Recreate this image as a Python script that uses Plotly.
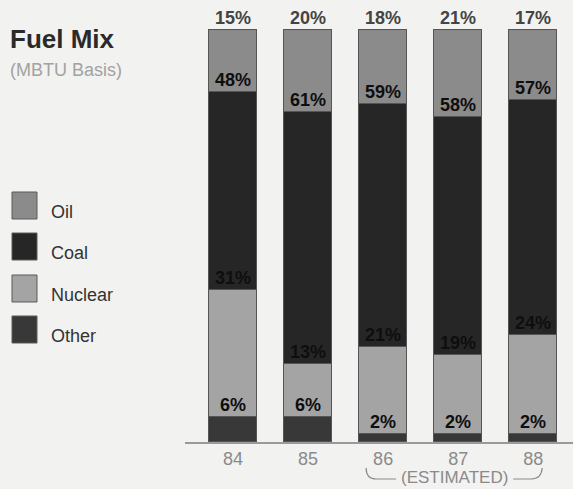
import plotly.graph_objects as go

# Fuel mix shares (percent of MBTU) by year
years = ["84", "85", "86", "87", "88"]
oil = [15, 20, 18, 21, 17]
coal = [48, 61, 59, 58, 57]
nuclear = [31, 13, 21, 19, 24]
other = [6, 6, 2, 2, 2]

series_names = ["Oil", "Coal", "Nuclear", "Other"]
series_values = [oil, coal, nuclear, other]
series_colors = ["#8b8b8b", "#262626", "#a4a4a4", "#383838"]

W, H = 573, 489
ML, MB, MT = 185, 47, 0
PLOT_W = W - ML
PLOT_H = H - MB - MT
X_RANGE = [-0.64, 4.53]
Y_RANGE = [0, 107.28]
BG = "#f2f2f0"
FONT = "Liberation Sans, Arial, sans-serif"


def px_x(px):
    return (px - ML) / PLOT_W


def px_y(py):
    return (H - MB - py) / PLOT_H


def data_px_x(xv):
    return ML + (xv - X_RANGE[0]) / (X_RANGE[1] - X_RANGE[0]) * PLOT_W


fig = go.Figure()
xs = list(range(len(years)))

# stack from the bottom: Other, Nuclear, Coal, Oil
for name, vals, col in reversed(list(zip(series_names, series_values, series_colors))):
    fig.add_trace(go.Bar(
        x=xs, y=vals, name=name, width=0.64,
        marker=dict(color=col, line=dict(color="#555555", width=1)),
        showlegend=False, hoverinfo="skip",
    ))

annotations = []
# value labels sit just above the top edge of each segment
for i in xs:
    top = 0
    for name, vals in reversed(list(zip(series_names, series_values))):
        top += vals[i]
        is_top = name == "Oil"
        annotations.append(dict(
            x=i, y=top, xref="x", yref="y", text=f"{vals[i]}%",
            showarrow=False, yanchor="bottom", xanchor="center",
            font=dict(family=FONT, size=18,
                      color="#444444" if is_top else "#0e0e0e",
                      weight="bold"),
        ))

# title
annotations.append(dict(
    x=px_x(8), y=px_y(39), xref="paper", yref="paper", text="<b>Fuel Mix</b>",
    showarrow=False, xanchor="left", yanchor="middle",
    font=dict(family=FONT, size=26, color="#2a2a2a"),
))
annotations.append(dict(
    x=px_x(8), y=px_y(70), xref="paper", yref="paper", text="(MBTU Basis)",
    showarrow=False, xanchor="left", yanchor="middle",
    font=dict(family=FONT, size=18, color="#a2a2a2"),
))

# legend swatches and labels
shapes = []
leg_top = [192, 233, 275, 316]
for name, col, ty in zip(series_names, series_colors, leg_top):
    shapes.append(dict(
        type="rect", xref="paper", yref="paper",
        x0=px_x(12), x1=px_x(37), y0=px_y(ty + 27), y1=px_y(ty),
        fillcolor=col, line=dict(color="#5a5a5a", width=1),
    ))
    annotations.append(dict(
        x=px_x(49), y=px_y(ty + 20), xref="paper", yref="paper", text=name,
        showarrow=False, xanchor="left", yanchor="middle",
        font=dict(family=FONT, size=18, color="#333333"),
    ))

# "(ESTIMATED)" bracket under the last three years
lx0 = data_px_x(2) - 17
lx1 = data_px_x(2) + 13
rx0 = data_px_x(4) - 20
rx1 = data_px_x(4) + 8
by, bt = 479, 468
shapes.append(dict(
    type="path", xref="paper", yref="paper",
    path=(f"M {px_x(lx0)},{px_y(bt)} Q {px_x(lx0)},{px_y(by)} {px_x(lx0 + 10)},{px_y(by)} "
          f"L {px_x(lx1)},{px_y(by)}"),
    line=dict(color="#8a8a8a", width=1.2),
))
shapes.append(dict(
    type="path", xref="paper", yref="paper",
    path=(f"M {px_x(rx0)},{px_y(by)} L {px_x(rx1 - 10)},{px_y(by)} "
          f"Q {px_x(rx1)},{px_y(by)} {px_x(rx1 + 1)},{px_y(bt)}"),
    line=dict(color="#8a8a8a", width=1.2),
))
annotations.append(dict(
    x=px_x((lx1 + rx0) / 2), y=px_y(478), xref="paper", yref="paper",
    text="(ESTIMATED)", showarrow=False, xanchor="center", yanchor="middle",
    font=dict(family=FONT, size=17, color="#8a8a8a"),
))

fig.update_layout(
    width=W, height=H,
    margin=dict(l=ML, r=0, t=MT, b=MB),
    paper_bgcolor=BG, plot_bgcolor=BG,
    barmode="stack", bargap=0,
    annotations=annotations, shapes=shapes,
    xaxis=dict(
        range=X_RANGE, tickvals=xs, ticktext=years,
        showline=True, linecolor="#9a9a9a", linewidth=1.5,
        showgrid=False, zeroline=False, ticks="",
        tickfont=dict(family=FONT, size=18, color="#8a8a8a"),
        fixedrange=True,
    ),
    yaxis=dict(range=Y_RANGE, visible=False, fixedrange=True),
)

fig.write_html("out.html")
